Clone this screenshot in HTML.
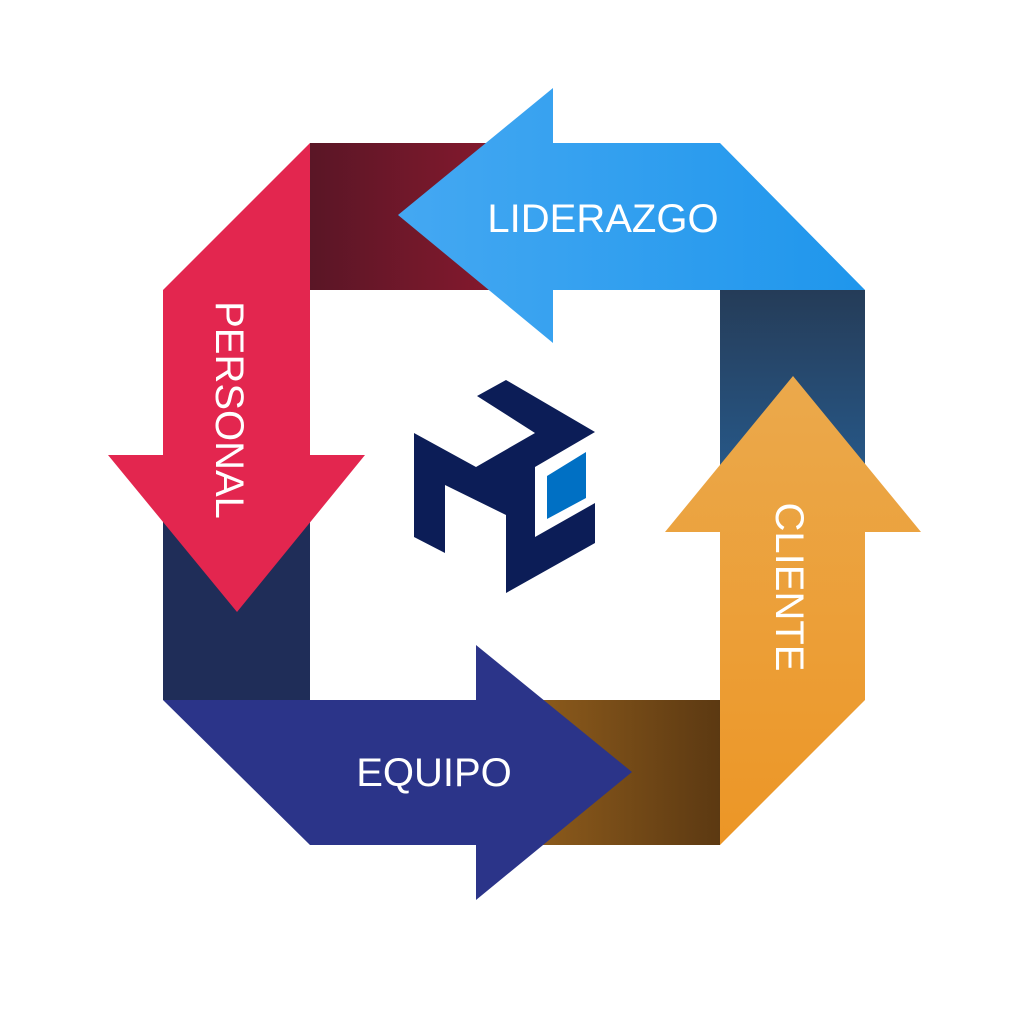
<!DOCTYPE html><html><head><style>body{margin:0;background:#fff}</style></head><body>
<svg width="1024" height="1024" viewBox="0 0 1024 1024" xmlns="http://www.w3.org/2000/svg">
<defs>
<linearGradient id="gr" x1="0" x2="1"><stop offset="0" stop-color="#5a1626"/><stop offset="1" stop-color="#931a30"/></linearGradient>
<linearGradient id="gb" x1="0" x2="1"><stop offset="0" stop-color="#44a8f2"/><stop offset="1" stop-color="#1f96ec"/></linearGradient>
<linearGradient id="gn" x1="0" y1="0" x2="0" y2="1"><stop offset="0" stop-color="#253c58"/><stop offset="1" stop-color="#27598a"/></linearGradient>
<linearGradient id="go" x1="0" y1="0" x2="0" y2="1"><stop offset="0" stop-color="#eba94c"/><stop offset="1" stop-color="#ec9626"/></linearGradient>
<linearGradient id="gbr" x1="0" x2="1"><stop offset="0" stop-color="#8e5c1c"/><stop offset="1" stop-color="#5c3912"/></linearGradient>
</defs>
<rect x="310" y="143" width="250" height="147" fill="url(#gr)"/>
<rect x="720" y="290" width="145" height="190" fill="url(#gn)"/>
<rect x="530" y="700" width="190" height="145" fill="url(#gbr)"/>
<rect x="163" y="500" width="147" height="200" fill="#1f2d58"/>
<polygon points="398,215 553,88 553,143 720,143 865,290 553,290 553,343" fill="url(#gb)"/>
<polygon points="310,143 310,455 365,455 237,612 108,455 163,455 163,290" fill="#e3264f"/>
<polygon points="793,376 921,532 865,532 865,700 720,845 720,532 665,532" fill="url(#go)"/>
<polygon points="163,700 476,700 476,645 632,772 476,900 476,845 310,845" fill="#2b3489"/>
<polygon points="477,396 506,380 595,432 535,467 535,537 595,503 595,543 506,593 506,515 445,485 445,553 414,537 414,433 476,467 535,433" fill="#0c1d57"/>
<polygon points="547,476 586,452 586,498 547,519" fill="#0070c4"/>
<g font-family="Liberation Sans, sans-serif" font-size="40" fill="#fff" text-anchor="middle">
<text x="603" y="232">LIDERAZGO</text>
<text x="434" y="786">EQUIPO</text>
<text transform="translate(216,410) rotate(90)">PERSONAL</text>
<text transform="translate(776,587) rotate(90)">CLIENTE</text>
</g>
</svg>
</body></html>
